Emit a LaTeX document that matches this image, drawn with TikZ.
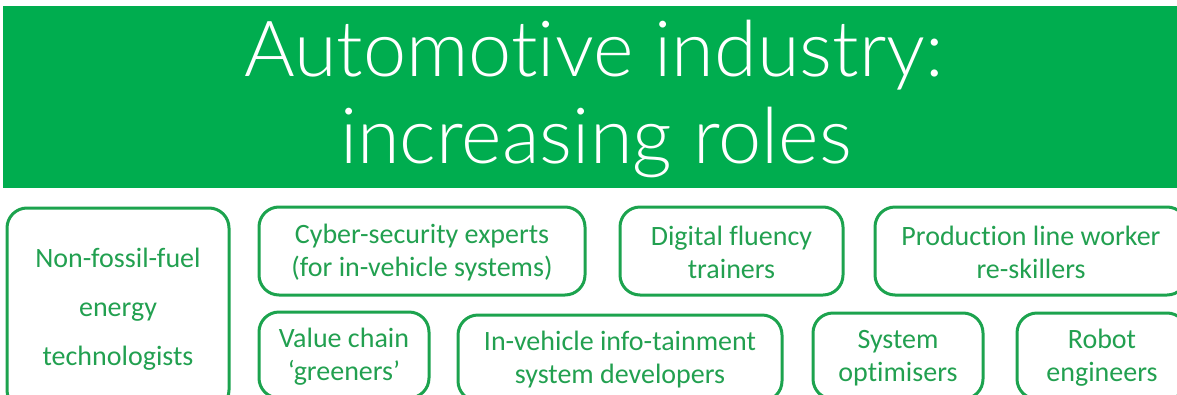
\documentclass[tikz,border=0pt]{standalone}
\usepackage{fontspec}
\setmainfont{Carlito}[RawFeature=-liga]
\newfontfamily\titlefont{Lato Light}[RawFeature=-liga]
\definecolor{bannergreen}{HTML}{00AD4F}
\definecolor{rolegreen}{HTML}{1CA34E}
\definecolor{roletext}{HTML}{22A050}
\begin{document}
\begin{tikzpicture}[x=1pt,y=-1pt,
  titletext/.style={text=white,font=\titlefont\fontsize{77.5}{87}\selectfont,anchor=base,inner sep=0pt},
  rolebox/.style={draw=rolegreen,line width=3pt,rounded corners=20pt,
    text=roletext,align=center,font=\fontsize{28}{33}\selectfont,inner sep=0pt}]
  \useasboundingbox (0,0) rectangle (1177,394);
  \begin{scope}
    \clip (0,0) rectangle (1177,394);
    % title banner
    \fill[bannergreen] (3,6) rectangle (1180,188);
    \node[titletext] (title1) at (594,76) {Automotive industry:};
    \node[titletext] (title2) at (596,163) {increasing roles};
    % upper row of roles
    \node[rolebox,minimum width=222pt,minimum height=202pt] (fossil) at (118,309)
      {Non-fossil-fuel\\[16pt]energy\\[16pt]technologists};
    \node[rolebox,minimum width=326pt,minimum height=88pt] (cyber) at (422,251)
      {\strut Cyber-security experts\\(for in-vehicle systems)};
    \node[rolebox,minimum width=223pt,minimum height=88pt] (digital) at (731.5,251)
      {\strut Digital fluency\\trainers};
    \node[rolebox,minimum width=312pt,minimum height=88pt] (production) at (1031,251)
      {\strut Production line worker\\re-skillers};
    % lower row of roles
    \node[rolebox,minimum width=170pt,minimum height=86pt] (value) at (344,355)
      {\strut Value chain\\`greeners'};
    \node[rolebox,minimum width=324pt,minimum height=86pt] (infotain) at (620,358)
      {\strut In-vehicle info-tainment\\system developers};
    \node[rolebox,minimum width=170pt,minimum height=86pt] (optim) at (898,356)
      {\strut System\\optimisers};
    \node[rolebox,minimum width=170pt,minimum height=86pt] (robot) at (1102,356)
      {\strut Robot\\engineers};
  \end{scope}
\end{tikzpicture}
\end{document}
